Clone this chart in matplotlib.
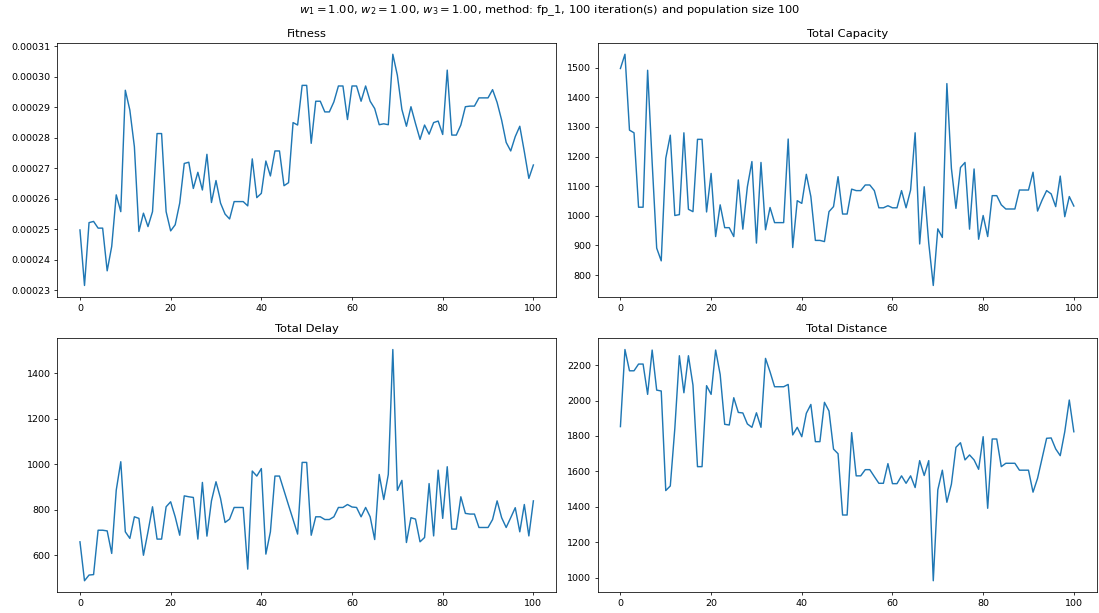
import matplotlib
matplotlib.use("Agg")
import matplotlib.pyplot as plt
import numpy as np

iterations = list(range(101))

fitness = [
    0.0002498, 0.0002316, 0.0002522, 0.0002526, 0.0002504, 0.0002504, 0.0002364, 0.0002444, 0.0002613, 0.0002558,
    0.0002956, 0.0002891, 0.0002771, 0.0002493, 0.0002553, 0.0002509, 0.0002558, 0.0002814, 0.0002814, 0.0002558,
    0.0002495, 0.0002515, 0.0002586, 0.0002716, 0.0002720, 0.0002634, 0.0002687, 0.0002629, 0.0002746, 0.0002588,
    0.0002660, 0.0002586, 0.0002550, 0.0002534, 0.0002591, 0.0002591, 0.0002591, 0.0002577, 0.0002731, 0.0002604,
    0.0002618, 0.0002724, 0.0002675, 0.0002757, 0.0002757, 0.0002643, 0.0002653, 0.0002850, 0.0002842, 0.0002972,
    0.0002972, 0.0002782, 0.0002920, 0.0002920, 0.0002885, 0.0002885, 0.0002918, 0.0002970, 0.0002970, 0.0002860,
    0.0002970, 0.0002970, 0.0002920, 0.0002970, 0.0002920, 0.0002896, 0.0002843, 0.0002846, 0.0002843, 0.0003074,
    0.0003005, 0.0002893, 0.0002838, 0.0002902, 0.0002847, 0.0002795, 0.0002842, 0.0002812, 0.0002850, 0.0002855,
    0.0002811, 0.0003022, 0.0002809, 0.0002809, 0.0002842, 0.0002902, 0.0002904, 0.0002904, 0.0002931, 0.0002931,
    0.0002931, 0.0002958, 0.0002916, 0.0002858, 0.0002785, 0.0002757, 0.0002804, 0.0002838, 0.0002755, 0.0002667,
    0.0002711,
]

capacity = [
    1497, 1545, 1289, 1280, 1029, 1029, 1491, 1180, 891, 848,
    1194, 1272, 1001, 1004, 1280, 1022, 1014, 1258, 1258, 1013,
    1143, 930, 1037, 960, 960, 930, 1121, 955, 1098, 1183,
    908, 1180, 953, 1028, 977, 977, 977, 1259, 893, 1051,
    1042, 1140, 1065, 917, 917, 913, 1014, 1031, 1132, 1006,
    1006, 1090, 1085, 1085, 1104, 1104, 1085, 1027, 1027, 1034,
    1027, 1027, 1085, 1027, 1087, 1280, 905, 1098, 908, 765,
    956, 927, 1446, 1160, 1025, 1163, 1180, 955, 1158, 921,
    1001, 930, 1068, 1068, 1037, 1023, 1023, 1023, 1087, 1087,
    1087, 1147, 1016, 1053, 1085, 1074, 1031, 1134, 997, 1065,
    1033,
]

delay = [
    660, 489, 514, 516, 711, 711, 708, 609, 887, 1012,
    704, 675, 770, 763, 601, 704, 814, 672, 672, 814,
    836, 770, 689, 862, 858, 855, 672, 921, 685, 840,
    924, 851, 745, 760, 811, 811, 811, 540, 971, 949,
    982, 606, 704, 949, 949, 885, 821, 758, 694, 1009,
    1009, 689, 770, 770, 758, 758, 770, 811, 811, 824,
    813, 811, 770, 811, 770, 670, 956, 846, 956, 1505,
    886, 930, 657, 766, 760, 660, 679, 916, 686, 975,
    763, 990, 716, 716, 858, 785, 782, 782, 723, 723,
    723, 758, 840, 766, 723, 766, 810, 704, 824, 686,
    840,
]

distance = [
    1853, 2288, 2168, 2168, 2206, 2206, 2035, 2285, 2059, 2054,
    1492, 1518, 1843, 2253, 2044, 2253, 2087, 1627, 1627, 2084,
    2035, 2285, 2147, 1866, 1862, 2016, 1933, 1930, 1868, 1849,
    1931, 1849, 2238, 2162, 2078, 2078, 2078, 2091, 1806, 1849,
    1796, 1928, 1978, 1768, 1768, 1990, 1941, 1726, 1700, 1354,
    1354, 1819, 1575, 1575, 1610, 1610, 1571, 1533, 1533, 1644,
    1531, 1531, 1575, 1533, 1575, 1509, 1661, 1577, 1661, 983,
    1496, 1607, 1426, 1528, 1736, 1762, 1665, 1693, 1665, 1612,
    1796, 1392, 1783, 1783, 1627, 1646, 1646, 1646, 1607, 1607,
    1607, 1483, 1561, 1674, 1787, 1789, 1727, 1689, 1824, 2003,
    1824,
]

titles = ["Fitness", "Total Capacity", "Total Delay", "Total Distance"]
series = [fitness, capacity, delay, distance]

W, H = 1099, 613
DPI = W / 16.0
fig, axes = plt.subplots(2, 2, figsize=(16, H / DPI), dpi=DPI)
for ax, title, values in zip(axes.flat, titles, series):
    ax.plot(iterations, values)
    ax.set_title(title)

fig.subplots_adjust(left=57.3 / W, right=1096.5 / W,
                    top=1 - 42.7 / H, bottom=1 - 592.3 / H,
                    wspace=0.0836, hspace=0.161)
fig.suptitle(r"$w_1 = 1.00$, $w_2 = 1.00$, $w_3 = 1.00$, method: fp_1, 100 iteration(s) and population size 100",
             y=1 - 3 / H, va="top")
fig.savefig("out.png", dpi=DPI)
